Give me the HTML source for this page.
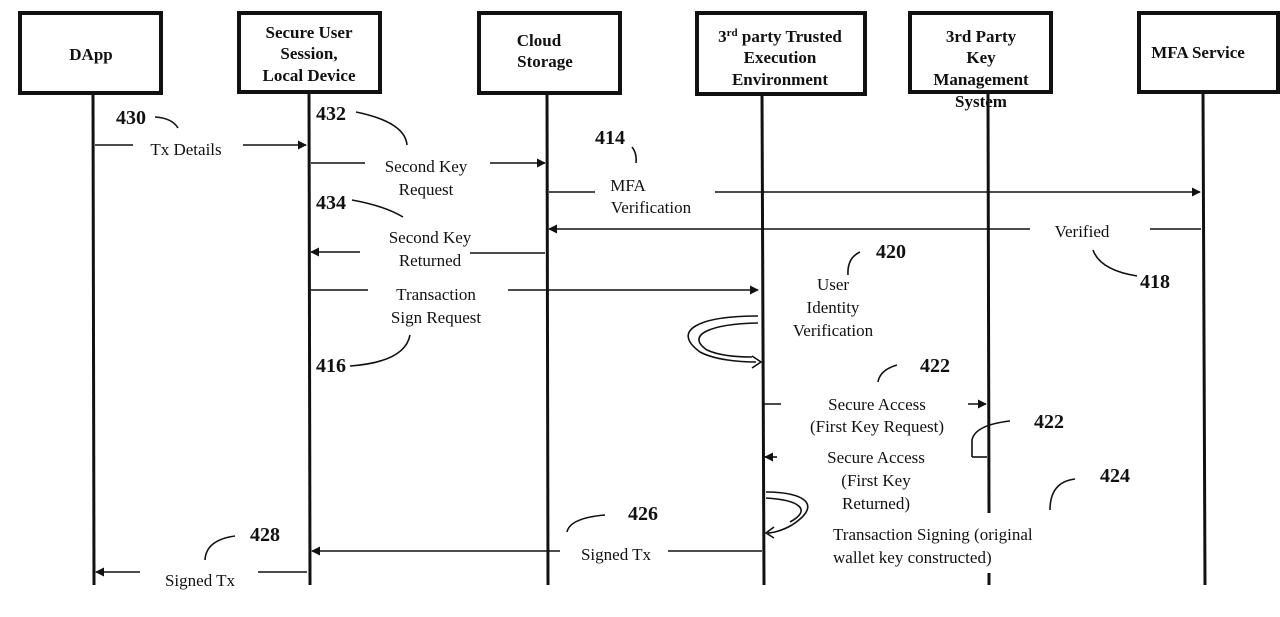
<!DOCTYPE html>
<html><head><meta charset="utf-8"><style>
html,body{margin:0;padding:0;background:#fff;width:1280px;height:617px;overflow:hidden}
svg{display:block}
text{font-family:"Liberation Serif",serif;fill:#111}
.t{font-size:17px}
.b{font-size:17px;font-weight:bold}
.n{font-size:20px;font-weight:bold}
</style></head><body>
<svg width="1280" height="617" viewBox="0 0 1280 617" xmlns="http://www.w3.org/2000/svg">
<defs><marker id="a" viewBox="0 0 10 10" refX="9" refY="5" markerWidth="9" markerHeight="9" markerUnits="userSpaceOnUse" orient="auto"><path d="M0,0L10,5L0,10z" fill="#111"/></marker></defs>
<g fill="none" stroke="#111" stroke-width="4">
<rect x="20" y="13" width="141" height="80"/>
<rect x="239" y="13" width="141" height="79"/>
<rect x="479" y="13" width="141" height="80"/>
<rect x="697" y="13" width="168" height="81"/>
<rect x="910" y="13" width="141" height="79"/>
<rect x="1139" y="13" width="139" height="79"/>
</g>
<g stroke="#111" stroke-width="3">
<line x1="93" y1="93" x2="94" y2="585"/>
<line x1="309" y1="92" x2="310" y2="585"/>
<line x1="547" y1="93" x2="548" y2="585"/>
<line x1="762" y1="94" x2="764" y2="585"/>
<line x1="988" y1="92" x2="989" y2="513"/>
<line x1="989" y1="573" x2="989" y2="585"/>
<line x1="1203" y1="92" x2="1205" y2="585"/>
</g>
<g class="b" text-anchor="middle">
<text x="91" y="60">DApp</text>
<text x="309" y="38">Secure User</text><text x="309" y="59">Session,</text><text x="309" y="81">Local Device</text>
<text x="539" y="46">Cloud</text><text x="545" y="67">Storage</text>
<text x="780" y="42">3<tspan font-size="11" dy="-6">rd</tspan><tspan dy="6"> party Trusted</tspan></text><text x="780" y="63">Execution</text><text x="780" y="85">Environment</text>
<text x="981" y="42">3rd Party</text><text x="981" y="63">Key</text><text x="981" y="85">Management</text><text x="981" y="107">System</text>
<text x="1198" y="58">MFA Service</text>
</g>
<g stroke="#111" stroke-width="1.6" fill="none">
<line x1="95" y1="145" x2="133" y2="145"/><line x1="243" y1="145" x2="306" y2="145" marker-end="url(#a)"/>
<line x1="311" y1="163" x2="365" y2="163"/><line x1="490" y1="163" x2="545" y2="163" marker-end="url(#a)"/>
<line x1="549" y1="192" x2="595" y2="192"/><line x1="715" y1="192" x2="1200" y2="192" marker-end="url(#a)"/>
<line x1="1201" y1="229" x2="1150" y2="229"/><line x1="1030" y1="229" x2="549" y2="229" marker-end="url(#a)"/>
<line x1="545" y1="253" x2="470" y2="253"/><line x1="360" y1="252" x2="311" y2="252" marker-end="url(#a)"/>
<line x1="311" y1="290" x2="368" y2="290"/><line x1="508" y1="290" x2="758" y2="290" marker-end="url(#a)"/>
<line x1="764" y1="404" x2="781" y2="404"/><line x1="968" y1="404" x2="986" y2="404" marker-end="url(#a)"/>
<line x1="987" y1="457" x2="972" y2="457"/><line x1="777" y1="457" x2="765" y2="457" marker-end="url(#a)"/>
<line x1="762" y1="551" x2="668" y2="551"/><line x1="560" y1="551" x2="312" y2="551" marker-end="url(#a)"/>
<line x1="307" y1="572" x2="258" y2="572"/><line x1="140" y1="572" x2="96" y2="572" marker-end="url(#a)"/>
<path d="M155,117 Q172,118 178,128"/>
<path d="M356,112 Q405,122 407,145"/>
<path d="M632,147 Q637,153 636,163"/>
<path d="M352,200 Q385,206 403,217"/>
<path d="M860,252 Q847,258 848,275"/>
<path d="M350,366 Q405,362 410,335"/>
<path d="M1093,250 Q1100,270 1137,276"/>
<path d="M897,365 Q880,370 878,382"/>
<path d="M1010,421 Q975,425 972,440 L972,457"/>
<path d="M1075,479 Q1050,482 1050,510"/>
<path d="M605,515 Q570,518 567,532"/>
<path d="M235,536 Q206,540 205,560"/>
<path d="M758,316 C700,316 670,330 700,352 C715,360 740,362 756,362 M752,356 L761,362 L752,368 M758,323 C710,324 685,335 707,350 C720,356 740,357 752,357"/>
<path d="M766,492 C805,492 823,505 792,525 C780,532 770,533 768,533 M774,527 L766,533 L774,538 M766,498 C800,500 812,510 790,522"/>
</g>
<g class="n">
<text x="116" y="124">430</text><text x="316" y="120">432</text><text x="595" y="144">414</text>
<text x="316" y="209">434</text><text x="876" y="258">420</text><text x="1140" y="288">418</text>
<text x="316" y="372">416</text><text x="920" y="372">422</text><text x="1034" y="428">422</text>
<text x="1100" y="482">424</text><text x="628" y="520">426</text><text x="250" y="541">428</text>
</g>
<g class="t" text-anchor="middle">
<text x="186" y="155">Tx Details</text>
<text x="426" y="172">Second Key</text><text x="426" y="195">Request</text>
<text x="628" y="191">MFA</text><text x="651" y="213">Verification</text>
<text x="1082" y="237">Verified</text>
<text x="430" y="243">Second Key</text><text x="430" y="266">Returned</text>
<text x="436" y="300">Transaction</text><text x="436" y="323">Sign Request</text>
<text x="833" y="290">User</text><text x="833" y="313">Identity</text><text x="833" y="336">Verification</text>
<text x="877" y="410">Secure Access</text><text x="877" y="432">(First Key Request)</text>
<text x="876" y="463">Secure Access</text><text x="876" y="486">(First Key</text><text x="876" y="509">Returned)</text>
<text x="616" y="560">Signed Tx</text>
<text x="200" y="586">Signed Tx</text>
</g>
<g class="t"><text x="833" y="540">Transaction Signing (original</text><text x="833" y="563">wallet key constructed)</text></g>
</svg>
</body></html>
